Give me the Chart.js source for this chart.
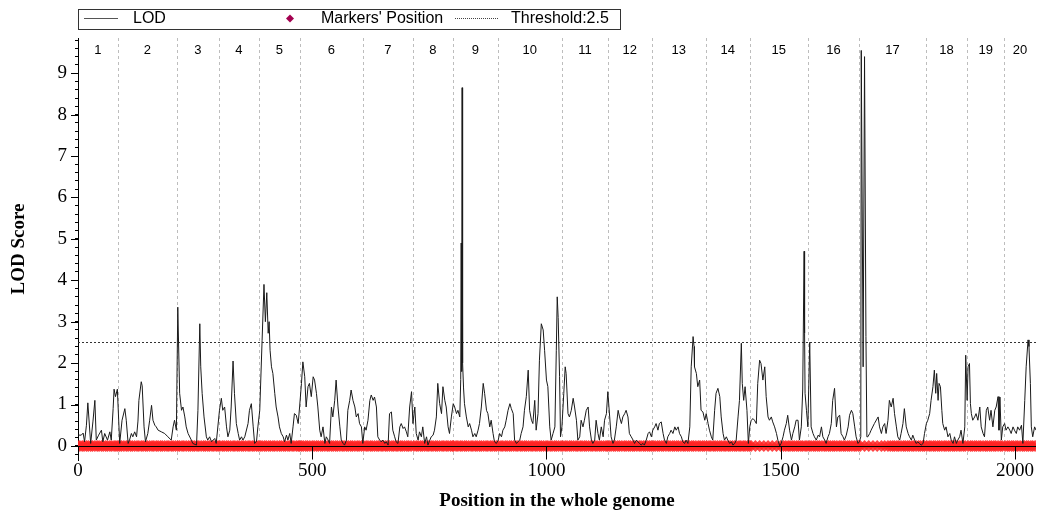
<!DOCTYPE html>
<html>
<head>
<meta charset="utf-8">
<script src="https://cdn.jsdelivr.net/npm/chart.js@4.4.1/dist/chart.umd.min.js"></script>
<style>
  body { margin: 0; background: #fff; }
  #wrap { width: 1038px; height: 516px; }
</style>
</head>
<body>
<div id="wrap"><canvas id="lod-chart" width="1038" height="516"></canvas></div>
<script>
// genome position (cM, whole genome) and LOD score
const lodPos = [
  0,7,11,14,18,21,27,32,36,39,44,50,53,57,63,68,71,75,77,80,84,89,94,100,103,107,110,114,117,121,125,128,130,135,137,141,144,149,153,157,160,164,167,171,178,185,192,199,203,206,210,
  213,217,221,224,228,231,235,242,245,253,256,260,262,265,269,274,277,281,285,292,295,
  302,306,309,313,317,320,324,327,331,334,338,342,345,349,352,356,363,366,370,374,377,381,384,
  388,393,397,400,403,406,408,410,413,416,420,423,427,430,434,438,441,445,448,452,455,459,462,466,470,473,
  477,480,484,487,491,494,498,502,505,509,512,516,519,523,527,530,534,537,541,544,548,551,555,559,562,566,569,573,576,580,583,587,591,594,598,601,605,
  608,612,615,619,623,626,630,633,637,640,644,647,651,655,658,662,665,669,672,676,679,683,687,690,694,697,701,704,708,712,
  715,719,722,726,729,733,736,740,744,747,751,754,758,761,765,768,772,776,779,783,786,790,793,797,
  801,804,808,811,815,817,818,819,820,821,823,825,829,833,836,840,843,847,850,854,857,861,865,868,872,875,879,882,886,889,893,
  897,900,904,907,911,914,918,922,925,929,932,936,939,943,946,950,953,957,961,964,968,971,975,978,982,985,989,993,996,1000,1003,1007,1010,1014,1018,1021,1023,
  1025,1028,1030,1033,1037,1040,1042,1046,1049,1053,1057,1060,1064,1067,1071,1074,1078,1081,1085,1089,1092,1096,1099,1103,1106,1110,1113,1117,1121,1124,1128,
  1131,1135,1138,1142,1145,1149,1153,1156,1160,1163,1167,1170,1174,1177,1181,1185,1188,1192,1195,1199,1202,1206,1209,1213,1217,1220,1224,
  1227,1231,1234,1238,1241,1245,1249,1252,1256,1259,1263,1266,1270,1274,1277,1281,1284,1288,1291,1295,1298,1302,1306,1309,1313,1315,1316,1320,1323,1327,1330,1334,1338,
  1341,1345,1348,1352,1355,1359,1362,1366,1370,1373,1377,1380,1384,1387,1391,1395,1398,1402,1405,1409,1412,1416,1418,1421,1424,1428,1431,
  1434,1437,1441,1444,1448,1451,1455,1458,1462,1466,1469,1473,1476,1480,1483,1487,1491,1494,1498,1501,1505,1508,1512,1515,1519,1523,1526,1530,1533,1537,1540,1544,1547,1550,1551,1552,1555,
  1558,1562,1565,1569,1572,1576,1580,1583,1587,1590,1594,1597,1601,1604,1608,1611,1615,1619,1622,1626,1629,1633,1636,1640,1644,1647,1651,1654,1658,1661,1665,
  1668,1671,1672,1676,1679,1682,1684,1686,1690,1693,1700,1708,1711,1715,1718,1722,1725,1729,1732,1736,1740,1743,1747,1750,1754,1757,1761,1764,1768,1772,1775,1779,1782,1786,1789,1793,1796,1800,1804,1807,
  1811,1814,1818,1821,1825,1828,1831,1833,1836,1838,1841,1844,1846,1850,1853,1857,1861,1864,1868,1871,1875,1878,1882,1885,1889,1893,1895,
  1898,1900,1903,1905,1907,1910,1914,1917,1921,1925,1928,1932,1935,1939,1942,1946,1949,1953,1957,1960,1964,1966,1968,1971,1974,
  1978,1981,1985,1989,1992,1996,1999,2003,2006,2010,2014,2017,2021,2024,2028,2030,2033,2035,2038,2042,2045
];
const lodVal = [
  0.26,0.26,0.31,0.10,0.5,1.04,0.06,0.6,1.10,0.14,0.26,0.38,0.10,0.30,0.14,0.34,0.14,0.9,1.37,1.19,1.37,0.06,0.62,0.90,0.62,0.06,0.14,0.30,0.22,0.34,0.22,0.6,1.10,1.55,1.45,0.46,0.10,0.30,0.62,0.98,0.62,0.50,0.46,0.38,0.34,0.30,0.22,0.14,0.46,0.62,0.38,
  3.35,1.27,0.86,0.94,0.70,0.46,0.30,0.14,0.06,0.02,0.86,2.95,1.91,1.27,0.70,0.22,0.14,0.22,0.10,0.18,0.06,
  0.86,1.15,0.86,0.94,0.46,0.22,0.38,0.94,2.05,1.27,0.54,0.30,0.14,0.22,0.14,0.22,0.54,0.86,1.02,0.46,0.06,0.10,0.46,
  0.86,2.55,3.9,3.0,3.7,2.72,3.0,2.31,1.91,1.75,1.27,0.94,0.70,0.46,0.30,0.22,0.10,0.26,0.14,0.30,0.06,0.46,0.78,0.74,0.54,0.94,
  1.51,2.03,1.67,0.94,1.43,1.51,1.19,1.67,1.59,1.27,0.94,0.38,0.22,0.46,0.06,0.22,0.14,0.06,0.94,0.70,1.10,1.59,0.94,0.46,0.14,0.06,0.02,0.14,0.86,1.10,1.35,1.10,0.94,0.70,0.78,0.54,0.46,
  0.06,0.46,0.38,0.62,1.10,1.23,1.10,1.18,0.94,0.22,0.14,0.10,0.14,0.06,0.10,0.02,0.78,0.82,0.38,0.22,0.10,0.06,0.46,0.54,0.42,0.46,0.34,0.22,0.94,1.31,
  0.54,0.94,0.30,0.14,0.34,0.22,0.46,0.06,0.22,0.02,0.14,0.22,0.26,0.38,0.70,1.51,1.02,0.78,1.43,1.10,0.94,0.46,0.30,0.70,
  1.02,0.94,0.78,0.86,0.70,1.6,4.9,1.8,8.65,2.0,1.4,1.02,0.70,0.46,0.54,0.38,0.22,0.30,0.22,0.38,0.54,0.94,1.51,1.27,0.86,0.78,0.46,0.62,0.30,0.10,0.06,
  0.14,0.30,0.22,0.38,0.46,0.62,0.86,1.02,0.90,0.78,0.14,0.06,0.10,0.14,0.30,0.46,0.86,1.19,1.83,0.86,0.62,0.54,1.10,0.38,0.78,2.07,2.95,2.80,2.31,1.59,1.43,0.46,0.14,0.30,0.46,2.31,3.6,
  3.1,1.67,0.22,0.46,1.27,1.91,1.75,0.78,0.70,0.86,1.15,0.94,0.62,0.14,0.22,0.62,0.46,0.62,0.86,0.94,0.46,0.14,0.06,0.14,0.62,0.30,0.14,0.46,0.22,0.62,0.78,
  1.31,0.70,0.22,0.06,0.14,0.46,0.86,0.70,0.54,0.70,0.78,0.86,0.70,0.30,0.22,0.14,0.06,0.14,0.10,0.06,0.02,0.06,0.02,0.14,0.30,0.34,0.22,
  0.38,0.46,0.54,0.38,0.54,0.58,0.30,0.14,0.06,0.22,0.30,0.38,0.30,0.46,0.38,0.46,0.30,0.22,0.10,0.06,0.14,0.06,0.46,1.91,2.64,2.40,1.91,1.75,1.43,1.59,0.86,0.82,0.62,
  0.78,0.54,0.38,0.22,0.14,0.86,1.27,1.39,1.19,0.70,0.30,0.14,0.22,0.14,0.06,0.10,0.02,0.06,0.14,0.70,1.10,2.48,1.51,1.10,1.43,0.86,0.06,
  0.46,0.62,0.66,0.62,0.54,1.51,2.07,1.99,1.59,1.91,1.19,0.70,0.62,0.70,0.58,0.46,0.30,0.14,0.0,0.06,0.22,0.38,0.54,0.74,0.38,0.14,0.30,0.46,0.62,0.62,0.14,0.46,1.35,4.7,2.72,1.27,0.86,
  0.46,2.5,0.46,0.30,0.22,0.14,0.26,0.22,0.46,0.22,0.14,0.06,0.22,0.30,0.54,1.10,1.39,0.46,0.70,0.74,0.30,0.22,0.14,0.26,0.46,0.74,0.86,0.78,0.46,0.22,0.06,
  0.10,0.22,9.55,1.91,9.4,2.64,0.22,0.22,0.30,0.38,0.54,0.70,0.46,0.30,0.46,0.54,0.30,0.62,1.10,0.94,1.15,0.78,0.46,0.22,0.14,0.30,0.54,0.90,0.46,0.30,0.22,0.14,0.26,0.14,0.06,0.10,0.06,0.02,0.06,0.30,
  0.54,0.62,0.78,1.10,1.43,1.83,1.27,1.75,1.10,1.51,1.43,0.86,0.54,0.38,0.46,0.22,0.30,0.14,0.06,0.22,0.06,0.14,0.22,0.38,0.06,0.46,2.19,
  1.10,1.91,1.99,1.02,0.78,0.62,0.70,0.78,0.62,0.94,0.46,0.30,0.22,0.86,0.94,0.62,0.86,0.46,0.86,0.94,1.19,0.38,1.18,0.14,0.46,
  0.54,0.38,0.46,0.38,0.30,0.46,0.38,0.30,0.46,0.38,0.50,0.06,1.10,1.91,2.56,2.40,1.51,0.46,0.22,0.46,0.38
];

// marker positions along the genome
const markerPos = [
  0,4,9,13,18,22,27,31,36,41,45,50,54,59,63,68,72,77,81,85,
  89,93,98,103,107,112,116,121,126,130,135,139,144,148,153,158,162,167,171,176,180,185,190,194,199,203,208,
  213,217,222,226,231,236,240,245,249,254,258,263,268,272,277,281,286,290,295,299,
  303,308,312,317,321,326,331,335,340,344,349,353,358,363,367,372,376,381,385,
  389,393,398,402,407,411,416,420,425,430,434,439,443,448,452,457,461,466,470,473,
  477,481,486,490,495,500,504,509,513,518,522,527,532,536,541,545,550,554,559,564,568,573,577,582,586,591,596,600,605,
  610,615,619,624,628,633,638,642,647,651,656,660,665,670,674,679,683,688,692,697,702,706,711,
  717,722,726,731,735,740,745,749,754,758,763,767,772,777,781,786,790,795,799,
  802,807,811,816,820,825,829,834,839,843,848,852,857,861,866,871,875,880,884,889,893,
  898,903,907,912,916,921,925,930,935,939,944,948,953,957,962,967,971,976,980,985,989,994,999,1003,1008,1012,1017,1021,1026,1031,
  1035,1040,1044,1049,1053,1058,1063,1067,1072,1076,1081,1085,1090,1095,1099,1104,1108,1113,1117,1122,1127,1130,
  1134,1138,1143,1147,1152,1156,1161,1166,1170,1175,1179,1184,1188,1193,1198,1202,1207,1211,1216,1220,1224,
  1228,1232,1237,1241,1246,1250,1255,1260,1264,1269,1273,1278,1282,1287,1292,1296,1301,1305,1310,1314,1319,1324,1328,1333,1337,
  1342,1347,1351,1356,1360,1365,1370,1374,1379,1383,1388,1392,1397,1402,1406,1411,1415,1420,1424,1429,1433,
  1437,1446,1455,1464,1473,1482,1491,1500,1506,1511,1516,1520,1525,1529,1534,1538,1543,1547,1552,1556,
  1561,1565,1570,1574,1579,1583,1588,1593,1597,1602,1606,1611,1615,1620,1625,1629,1634,1638,1643,1647,1652,1657,1661,1666,
  1670,1679,1688,1697,1706,1715,1722,1729,1734,1739,1743,1748,1752,1757,1762,1766,1771,1775,1780,1784,1789,1794,1798,1803,1807,
  1812,1817,1821,1826,1830,1835,1839,1844,1849,1853,1858,1862,1867,1871,1876,1881,1885,1890,1894,
  1900,1905,1909,1914,1918,1923,1927,1932,1937,1941,1946,1950,1955,1959,1964,1969,1973,
  1979,1984,1988,1993,1997,2002,2006,2011,2016,2020,2025,2029,2034,2038,2043
];

// chromosome ends (whole genome position) and their names
const chromEnds = [85,211,301,386,474,608,715,800,896,1033,1131,1225,1340,1434,1558,1667,1810,1898,1977,2045];
const chromLabels = ['1','2','3','4','5','6','7','8','9','10','11','12','13','14','15','16','17','18','19','20'];
const xTickVals = [0, 500, 1000, 1500, 2000];
const threshold = 2.5;

const serif = '"Liberation Serif", "Times New Roman", serif';
const sans = '"Liberation Sans", Arial, sans-serif';

const decor = {
  id: 'decor',
  beforeDatasetsDraw(chart) {
    const { ctx, chartArea: a, scales: { x, y } } = chart;
    ctx.save();
    ctx.lineWidth = 1;
    // chromosome boundaries
    ctx.strokeStyle = '#bdbdbd';
    ctx.setLineDash([3, 3]);
    chromEnds.slice(0, -1).forEach(v => {
      const px = Math.round(x.getPixelForValue(v)) + 0.5;
      ctx.beginPath(); ctx.moveTo(px, a.top); ctx.lineTo(px, a.bottom); ctx.stroke();
    });
    // threshold
    ctx.strokeStyle = '#333';
    ctx.setLineDash([2, 2]);
    const ty = Math.round(y.getPixelForValue(threshold)) + 0.5;
    ctx.beginPath(); ctx.moveTo(a.left, ty); ctx.lineTo(a.right, ty); ctx.stroke();
    ctx.setLineDash([]);
    // chromosome names
    ctx.fillStyle = '#000';
    ctx.font = '13px ' + sans;
    ctx.textAlign = 'center';
    ctx.textBaseline = 'middle';
    let start = 0;
    chromEnds.forEach((end, i) => {
      ctx.fillText(chromLabels[i], x.getPixelForValue((start + end) / 2), a.top + 12);
      start = end;
    });
    ctx.restore();
  },
  afterDatasetsDraw(chart) {
    const { ctx, chartArea: a, scales: { x, y } } = chart;
    ctx.save();
    ctx.strokeStyle = '#000';
    ctx.lineWidth = 1;
    const y0 = Math.round(y.getPixelForValue(0)) + 0.5;
    ctx.beginPath(); ctx.moveTo(a.left, y0); ctx.lineTo(a.right, y0); ctx.stroke();
    // x ticks hanging from the zero line
    x.ticks.forEach(t => {
      const px = Math.round(x.getPixelForValue(t.value)) + 0.5;
      ctx.beginPath(); ctx.moveTo(px, y0); ctx.lineTo(px, y0 + 13); ctx.stroke();
    });
    // longer y ticks at whole numbers
    y.ticks.forEach(t => {
      if (Math.abs(t.value - Math.round(t.value)) > 1e-6) return;
      const py = Math.round(y.getPixelForValue(t.value)) + 0.5;
      ctx.beginPath(); ctx.moveTo(a.left - 7, py); ctx.lineTo(a.left, py); ctx.stroke();
    });
    ctx.restore();
  },
  afterDraw(chart) {
    const { ctx, chartArea: a } = chart;
    ctx.save();
    ctx.strokeStyle = '#333';
    ctx.lineWidth = 1;
    ctx.strokeRect(a.left + 0.5, 9.5, 542, 20);
    const ly = 18.5;
    ctx.font = '16px ' + sans;
    ctx.fillStyle = '#000';
    ctx.textAlign = 'left';
    ctx.textBaseline = 'middle';
    // LOD
    ctx.strokeStyle = '#555';
    ctx.beginPath(); ctx.moveTo(a.left + 6, ly); ctx.lineTo(a.left + 40, ly); ctx.stroke();
    ctx.fillText('LOD', a.left + 55, ly);
    // markers
    ctx.fillStyle = '#a3004f';
    ctx.beginPath();
    ctx.moveTo(a.left + 212, ly - 4); ctx.lineTo(a.left + 216, ly);
    ctx.lineTo(a.left + 212, ly + 4); ctx.lineTo(a.left + 208, ly);
    ctx.closePath(); ctx.fill();
    ctx.fillStyle = '#000';
    ctx.fillText("Markers' Position", a.left + 243, ly);
    // threshold
    ctx.strokeStyle = '#444';
    ctx.setLineDash([1, 1]);
    ctx.beginPath(); ctx.moveTo(a.left + 377, ly); ctx.lineTo(a.left + 420, ly); ctx.stroke();
    ctx.setLineDash([]);
    ctx.fillText('Threshold:' + threshold, a.left + 433, ly);
    ctx.restore();
  }
};

new Chart(document.getElementById('lod-chart'), {
  data: {
    datasets: [
      {
        type: 'line',
        label: 'LOD',
        data: lodPos.map((p, i) => ({ x: p, y: lodVal[i] })),
        borderColor: '#1a1a1a',
        borderWidth: 1,
        pointRadius: 0,
        tension: 0,
        order: 0
      },
      {
        type: 'scatter',
        label: "Markers' Position",
        data: markerPos.map(p => ({ x: p, y: 0 })),
        pointStyle: 'rectRot',
        pointRadius: 6,
        backgroundColor: 'rgba(255,35,35,0.85)',
        borderWidth: 0,
        order: 1
      }
    ]
  },
  options: {
    responsive: false,
    animation: false,
    layout: { autoPadding: false, padding: { top: 38, left: 0, right: 2, bottom: 0 } },
    plugins: { legend: { display: false }, tooltip: { enabled: false } },
    scales: {
      x: {
        type: 'linear',
        min: 0,
        max: 2045,
        afterFit: s => { s.height = 56; s.paddingLeft = 0; s.paddingRight = 0; },
        afterBuildTicks: s => { s.ticks = xTickVals.map(v => ({ value: v })); },
        border: { display: false },
        grid: { drawOnChartArea: false, drawTicks: false },
        ticks: {
          padding: 0,
          color: '#000',
          font: { family: serif, size: 19 },
          callback: v => String(v)
        },
        title: {
          display: true,
          text: 'Position in the whole genome',
          color: '#000',
          font: { family: serif, size: 19, weight: 'bold' },
          padding: { top: 4, bottom: 4 }
        }
      },
      y: {
        min: -0.34,
        max: 9.85,
        afterFit: s => { s.width = 78; s.paddingTop = 0; s.paddingBottom = 0; },
        border: { color: '#000' },
        grid: { drawOnChartArea: false, tickLength: 3, color: '#000' },
        ticks: {
          stepSize: 0.2,
          includeBounds: false,
          autoSkip: false,
          padding: 8,
          color: '#000',
          font: { family: serif, size: 19 },
          callback: v => Math.abs(v - Math.round(v)) < 1e-6 ? String(Math.round(v)) : ''
        },
        title: {
          display: true,
          text: 'LOD Score',
          color: '#000',
          font: { family: serif, size: 19, weight: 'bold' },
          padding: { top: 8, bottom: 0 }
        }
      }
    }
  },
  plugins: [decor]
});
</script>
</body>
</html>
